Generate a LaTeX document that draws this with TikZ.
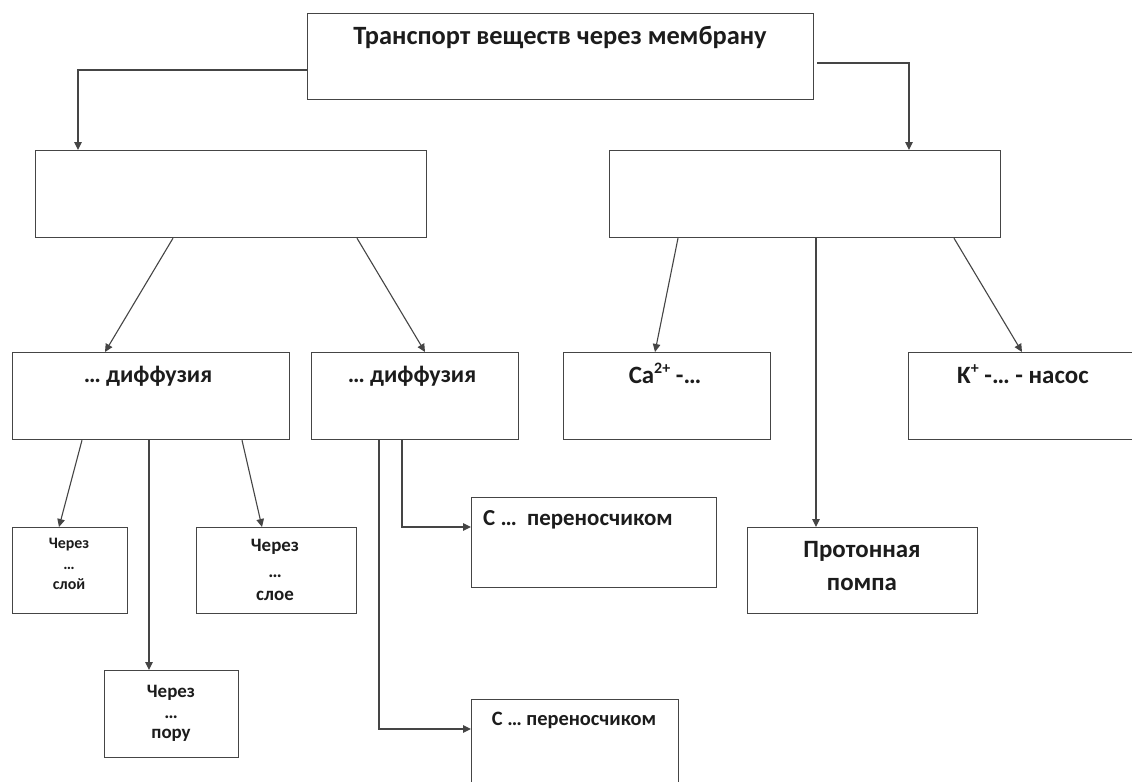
\documentclass[tikz,border=0pt]{standalone}
\usepackage{fontspec}
\setmainfont{Carlito}
\usetikzlibrary{arrows.meta}
\definecolor{ink}{HTML}{454545}
\definecolor{txtcol}{HTML}{1C1C1C}
\newcommand{\upidx}[1]{\raisebox{0.38em}{\fontsize{16}{18}\selectfont #1}}
\begin{document}
\begin{tikzpicture}[x=1bp,y=-1bp,
  box/.style={draw=ink, line width=1.2bp, rectangle, inner sep=0pt, anchor=north west},
  link/.style={draw=ink, line width=1.1bp},
  arr/.style={link, -{Triangle[length=8bp,width=7.5bp]}},
  txt/.style={anchor=base, inner sep=0pt, text=txtcol},
  fA/.style={font=\fontsize{26.5}{30}\selectfont\bfseries},
  fB/.style={font=\fontsize{25}{29}\selectfont\bfseries},
  fC/.style={font=\fontsize{24}{28}\selectfont\bfseries},
  fD/.style={font=\fontsize{23}{27}\selectfont\bfseries},
  fE/.style={font=\fontsize{20.5}{24}\selectfont\bfseries},
  fF/.style={font=\fontsize{19}{23}\selectfont\bfseries},
  fG/.style={font=\fontsize{16}{19}\selectfont\bfseries},
]
\useasboundingbox (0,0) rectangle (1132,782);
\clip (0,0) rectangle (1132,782);
\fill[white] (0,0) rectangle (1132,782);

% boxes
\node[box, minimum width=506bp, minimum height=86bp] (T)   at (307,13)  {};
\node[box, minimum width=391bp, minimum height=87bp] (L1)  at (35,150)  {};
\node[box, minimum width=391bp, minimum height=87bp] (R1)  at (609,150) {};
\node[box, minimum width=277bp, minimum height=87bp] (D1)  at (12,352)  {};
\node[box, minimum width=207bp, minimum height=87bp] (D2)  at (311,352) {};
\node[box, minimum width=207bp, minimum height=87bp] (Ca)  at (563,352) {};
\node[box, minimum width=242bp, minimum height=87bp] (K)   at (908,352) {};
\node[box, minimum width=115bp, minimum height=86bp] (S1)  at (12,527)  {};
\node[box, minimum width=160bp, minimum height=86bp] (S2)  at (196,527) {};
\node[box, minimum width=134bp, minimum height=87bp] (Pr)  at (104,670) {};
\node[box, minimum width=245bp, minimum height=90bp] (C1)  at (471,497) {};
\node[box, minimum width=207bp, minimum height=101bp] (C2) at (471,699) {};
\node[box, minimum width=230bp, minimum height=86bp] (P)   at (747,527) {};

% texts
\node[txt, fA] (Tt) at (560,45) {Транспорт веществ через мембрану};
\node[txt, fC] (D1t) at (148,382) {… диффузия};
\node[txt, fC] (D2t) at (412,382) {… диффузия};
\node[txt, fB] (Cat) at (665,383) {Ca\upidx{2+} -…};
\node[txt, fB] (Kt)  at (1023,383) {K\upidx{+} -… - насос};
\node[txt, fB] (Pt1) at (862,557) {Протонная};
\node[txt, fB] (Pt2) at (862,590) {помпа};
\node[txt, fD, anchor=base west] (C1t) at (483,525) {С …\ \ переносчиком};
\node[txt, fE] (C2t) at (574,725) {С … переносчиком};
\node[txt, fG] (S1a) at (69,548) {Через};
\node[txt, fG] (S1b) at (69,569) {…};
\node[txt, fG] (S1c) at (69,589) {слой};
\node[txt, fF] (S2a) at (275,551) {Через};
\node[txt, fF] (S2b) at (275,577) {…};
\node[txt, fF] (S2c) at (275,600) {слое};
\node[txt, fF] (Pra) at (171,697) {Через};
\node[txt, fF] (Prb) at (171,718) {…};
\node[txt, fF] (Prc) at (171,738) {пору};

% connectors
\draw[arr] (T.west |- 0,70) -| (L1.north -| 78,0);
\draw[arr] ([xshift=3bp]T.east |- 0,63) -| (R1.north -| 909,0);
\draw[arr] (L1.south -| 173,0) -- (D1.north -| 105,0);
\draw[arr] (L1.south -| 357,0) -- (D2.north -| 425,0);
\draw[arr] (R1.south -| 678,0) -- (Ca.north -| 655,0);
\draw[arr] (R1.south -| 816,0) -- (P.north -| 816,0);
\draw[arr] (R1.south -| 954,0) -- (K.north -| 1022,0);
\draw[arr] (D1.south -| 82,0) -- (S1.north -| 59,0);
\draw[arr] (D1.south -| 149,0) -- (Pr.north -| 149,0);
\draw[arr] (D1.south -| 242,0) -- (S2.north -| 262,0);
\draw[arr] (D2.south -| 402,0) |- (C1.west |- 0,527);
\draw[arr] (D2.south -| 379,0) |- (C2.west |- 0,729);
\end{tikzpicture}
\end{document}
